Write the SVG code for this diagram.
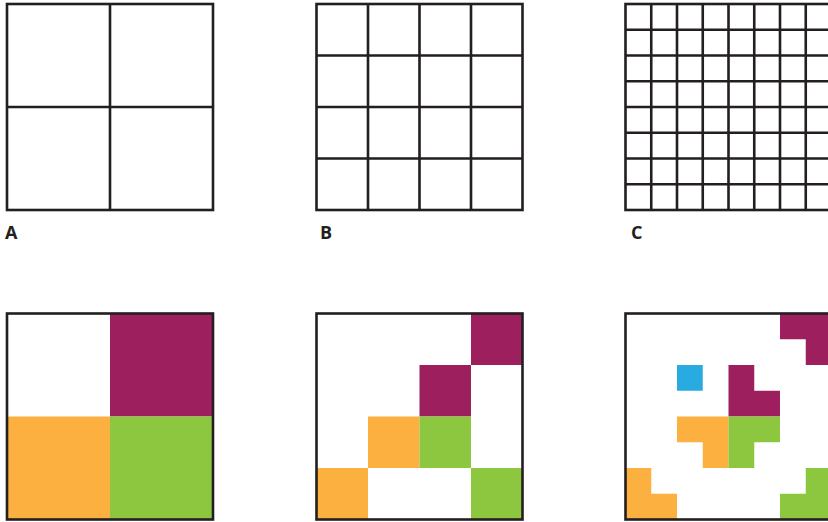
<svg xmlns="http://www.w3.org/2000/svg" width="828" height="522" viewBox="0 0 828 522">
<style>
.g{fill:none;stroke:#231f20;stroke-width:2.6}
.l{font-family:"Open Sans","Liberation Sans",sans-serif;font-weight:bold;font-size:18px;fill:#231f20}
.m{fill:#9e1f5d}.o{fill:#fbb040}.gr{fill:#8dc63f}.b{fill:#29abe2}
</style>
<rect width="828" height="522" fill="#fff"/>
<g id="gridA">
<rect class="g" x="7" y="4" width="206" height="206"/>
<path class="g" d="M110 4V210M7 107H213"/>
</g>
<g id="gridB">
<rect class="g" x="316.5" y="4" width="206" height="206"/>
<path class="g" d="M368 4V210M419.5 4V210M471 4V210M316.5 55.5H522.5M316.5 107H522.5M316.5 158.5H522.5"/>
</g>
<g id="gridC">
<rect class="g" x="625.5" y="4" width="206" height="206"/>
<path class="g" d="M651.25 4V210M677 4V210M702.75 4V210M728.5 4V210M754.25 4V210M780 4V210M805.75 4V210M625.5 29.75H831.5M625.5 55.5H831.5M625.5 81.25H831.5M625.5 107H831.5M625.5 132.75H831.5M625.5 158.5H831.5M625.5 184.25H831.5"/>
</g>
<g id="labels">
<text class="l" x="5" y="239">A</text>
<text class="l" x="320" y="239">B</text>
<text class="l" x="631" y="239">C</text>
</g>
<g id="colorA">
<rect class="m" x="110" y="313.5" width="103" height="103"/>
<rect class="o" x="7" y="416.5" width="103" height="103"/>
<rect class="gr" x="110" y="416.5" width="103" height="103"/>
<rect class="g" x="7" y="313.5" width="206" height="206"/>
</g>
<g id="colorB">
<rect class="m" x="471" y="313.5" width="51.5" height="51.5"/>
<rect class="m" x="419.5" y="365" width="51.5" height="51.5"/>
<rect class="o" x="368" y="416.5" width="51.5" height="51.5"/>
<rect class="gr" x="419.5" y="416.5" width="51.5" height="51.5"/>
<rect class="o" x="316.5" y="468" width="51.5" height="51.5"/>
<rect class="gr" x="471" y="468" width="51.5" height="51.5"/>
<rect class="g" x="316.5" y="313.5" width="206" height="206"/>
</g>
<g id="colorC">
<path class="m" d="M780 313.5H831.5V365H805.75V339.25H780Z"/>
<rect class="b" x="677" y="365" width="25.75" height="25.75"/>
<path class="m" d="M728.5 365H754.25V390.75H780V416.5H728.5Z"/>
<path class="o" d="M677 416.5H728.5V468H702.75V442.25H677Z"/>
<path class="gr" d="M728.5 416.5H780V442.25H754.25V468H728.5Z"/>
<path class="o" d="M625.5 468H651.25V493.75H677V519.5H625.5Z"/>
<path class="gr" d="M805.75 468H831.5V519.5H780V493.75H805.75Z"/>
<rect class="g" x="625.5" y="313.5" width="206" height="206"/>
</g>
</svg>
